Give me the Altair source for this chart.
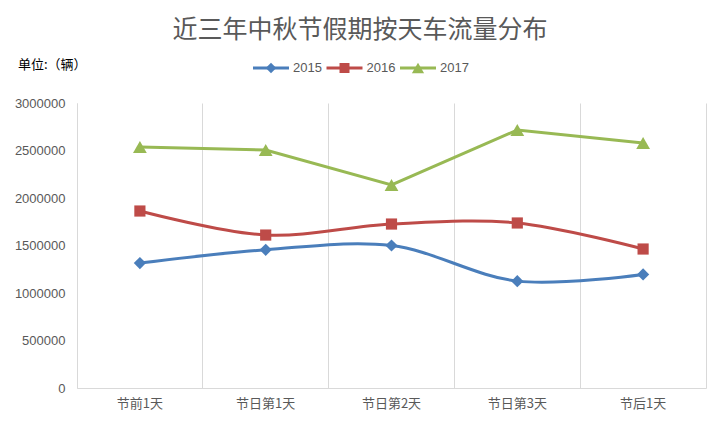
import altair as alt
import pandas as pd

categories = ["节前1天", "节日第1天", "节日第2天", "节日第3天", "节后1天"]
years = ["2015", "2016", "2017"]
v2015 = [1315000, 1455000, 1500000, 1125000, 1195000]
v2016 = [1863000, 1610000, 1726000, 1737000, 1463000]
v2017 = [2537000, 2505000, 2137000, 2716000, 2579000]
y_ticks = [0, 500000, 1000000, 1500000, 2000000, 2500000, 3000000]
title_text = ["近三年中秋节假期按天车流量分布"]
unit_label = ["单位:（辆）"]

colors = ["#4a7ebb", "#be4b48", "#98b954"]
plot_shapes = ["diamond", "square", "triangle-up"]

rows = []
for yr, vals in zip(years, [v2015, v2016, v2017]):
    for c, v in zip(categories, vals):
        rows.append({"cat": c, "year": yr, "value": v})
df = pd.DataFrame(rows)
legend_df = pd.DataFrame({"year": years})

CJK = "Noto Sans CJK SC"
GRID = "#d9d9d9"
TXT = "#595959"

color_scale = alt.Scale(domain=years, range=colors)
y_scale = alt.Scale(domain=[0, 3000000], nice=False)

x_enc = alt.X(
    "cat:N", sort=categories, title=None,
    scale=alt.Scale(type="band", paddingInner=0, paddingOuter=0),
    axis=alt.Axis(grid=True, bandPosition=0, gridColor=GRID, domainColor=GRID,
                  ticks=False, labelAngle=0, labelFont=CJK, labelFontSize=13,
                  labelColor=TXT, labelPadding=9),
)

y_left = alt.Y("value:Q", scale=y_scale, title=None,
               axis=alt.Axis(values=y_ticks, format="d", grid=False, ticks=False,
                             domainColor=GRID, labelFont="Liberation Sans",
                             labelFontSize=13, labelColor=TXT, labelPadding=12))
y_right = alt.Y("value:Q", scale=y_scale, title=None,
                axis=alt.Axis(orient="right", labels=False, ticks=False, grid=False,
                              domainColor=GRID))
y_none = alt.Y("value:Q", scale=y_scale, title=None, axis=None)

col = alt.Color("year:N", scale=color_scale, legend=None)

base = alt.Chart(df)

smooth = base.transform_filter("datum.year != '2017'").mark_line(
    interpolate="catmull-rom", strokeWidth=3).encode(x=x_enc, y=y_left, color=col)
straight = base.transform_filter("datum.year == '2017'").mark_line(
    strokeWidth=3).encode(x=x_enc, y=y_right, color=col)

point_layers = []
for yr, shp, sz in zip(years, plot_shapes, [150, 125, 190]):
    point_layers.append(
        base.transform_filter(f"datum.year == '{yr}'").mark_point(
            filled=True, shape=shp, size=sz, opacity=1).encode(x=x_enc, y=y_none, color=col)
    )

main = alt.layer(smooth, straight, *point_layers).resolve_axis(y="independent")

# legend drawn from a small table through its own point scale
leg_x = alt.X("year:N", sort=years, axis=None, title=None,
              scale=alt.Scale(type="point", domain=years, range=[194, 341], padding=0))
leg_base = alt.Chart(legend_df)
leg_line = leg_base.mark_rule(strokeWidth=3, xOffset=-18, x2Offset=18).encode(
    x=leg_x, x2="year:N", y=alt.value(-35), color=col)
leg_pts = [
    leg_base.transform_filter(f"datum.year == '{yr}'").mark_point(
        filled=True, shape=shp, size=sz, opacity=1).encode(
        x=leg_x, y=alt.value(-35), color=col)
    for yr, shp, sz in zip(years, plot_shapes, [110, 100, 150])
]
leg_text = leg_base.mark_text(align="left", baseline="middle", dx=22,
                              font="Liberation Sans", fontSize=13, color=TXT).encode(
    x=leg_x, y=alt.value(-35), text="year:N")
legend = alt.layer(leg_line, *leg_pts, leg_text)

unit = alt.Chart(pd.DataFrame({"t": unit_label})).mark_text(
    align="left", baseline="middle", font=CJK, fontSize=13, color="#000000"
).encode(x=alt.value(-59), y=alt.value(-38), text="t:N")

title = alt.Chart(pd.DataFrame({"t": title_text})).mark_text(
    align="center", baseline="middle", font=CJK, fontSize=25, color=TXT
).encode(x=alt.value(283), y=alt.value(-73), text="t:N")

chart = alt.layer(main, legend, unit, title).resolve_scale(x="independent").properties(
    width=629, height=285,
    autosize=alt.AutoSizeParams(type="none"),
    padding={"left": 69, "top": 95, "right": 12, "bottom": 30},
    background="white",
).configure_view(stroke=None)

chart.save("out.html", embed_options={"renderer": "svg", "actions": False})
